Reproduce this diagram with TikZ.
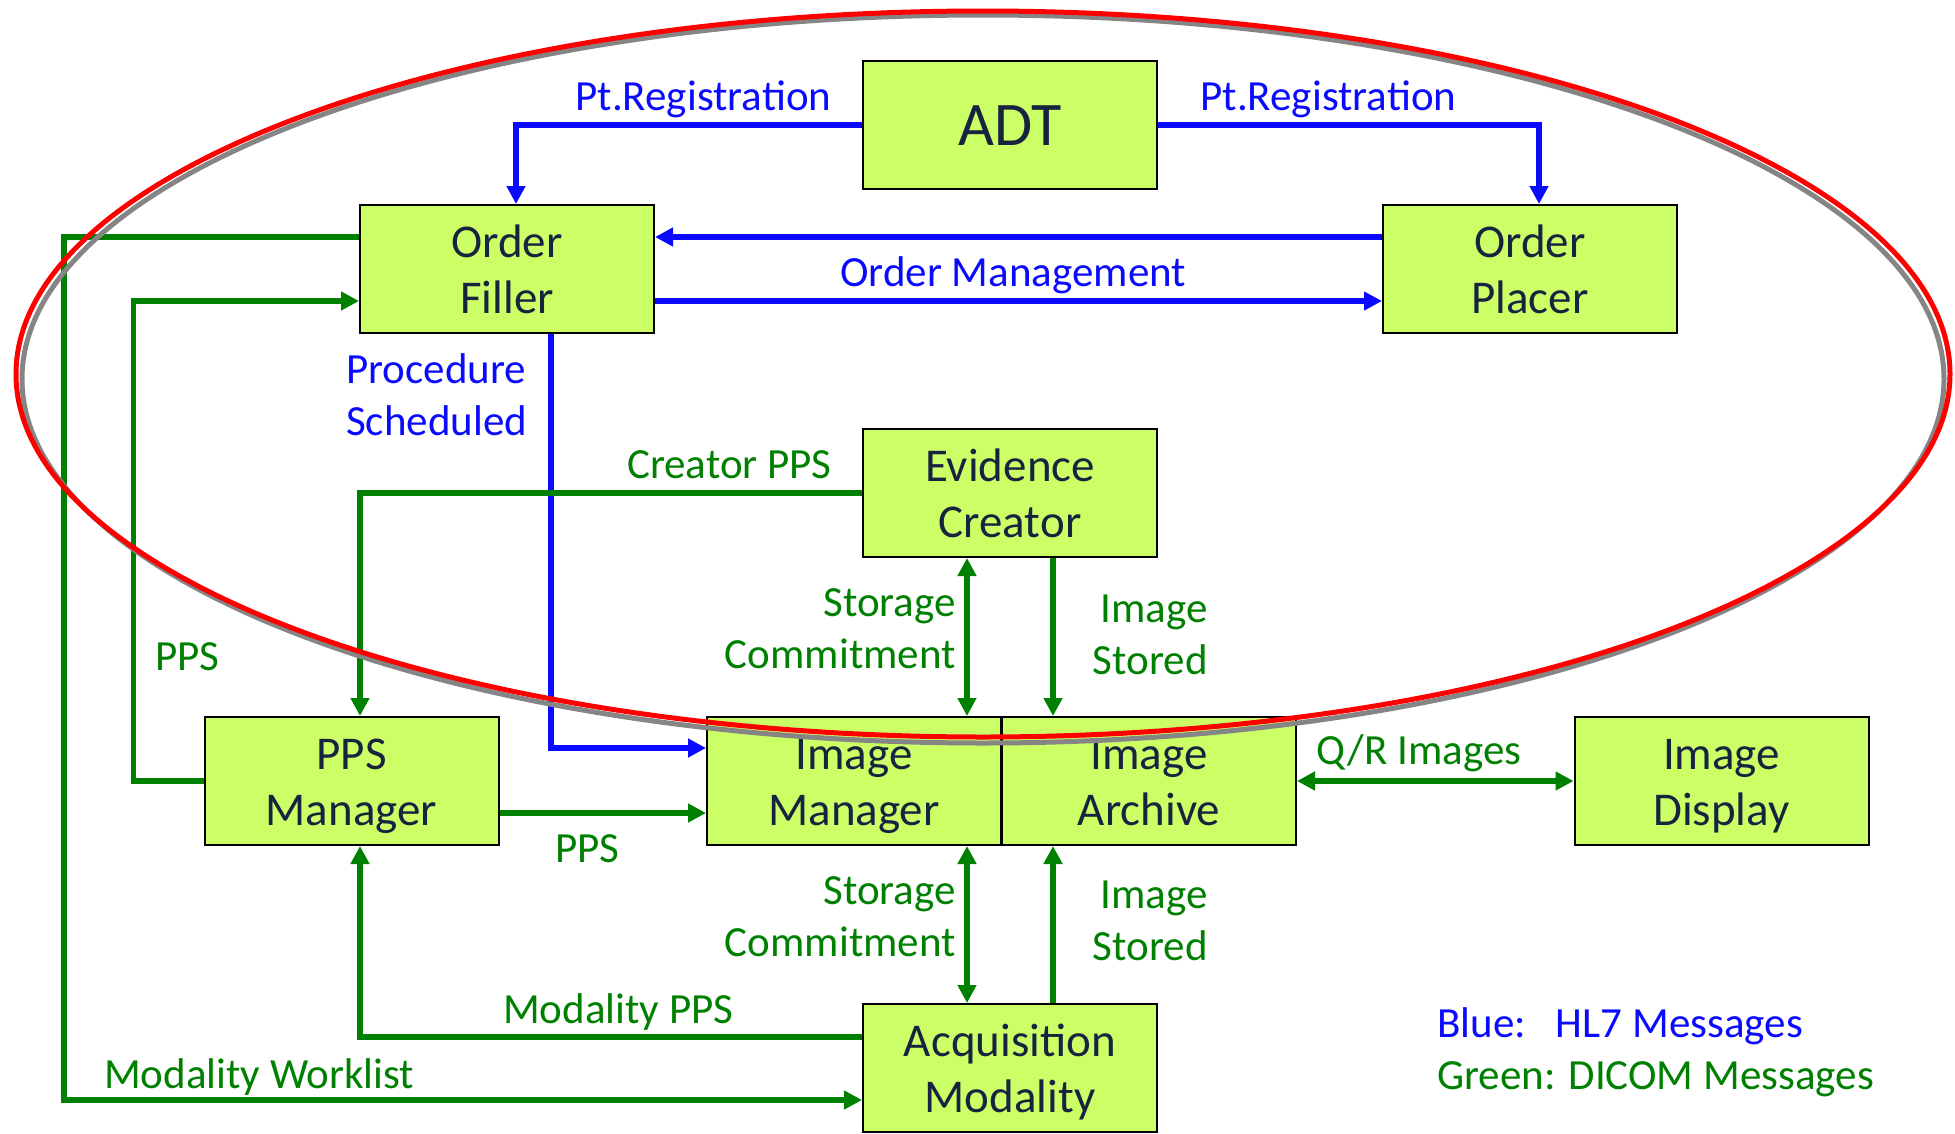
\documentclass[tikz,border=0pt]{standalone}
\usepackage{fontspec}
\setmainfont{Carlito}
\usetikzlibrary{arrows.meta,calc}

\definecolor{boxfill}{HTML}{CCFF66}
\definecolor{boxtext}{HTML}{17233F}
\definecolor{hlblue}{HTML}{0A0AFF}
\definecolor{dcgreen}{HTML}{008000}
\definecolor{ringred}{HTML}{FF0000}
\definecolor{ringgray}{HTML}{858585}

% struts that fix the line metrics of box texts and multi-line labels
\newcommand{\boxstrut}{\rule[-12pt]{0pt}{56pt}}
\newcommand{\adtstrut}{\rule[-12pt]{0pt}{64pt}}
\newcommand{\lblstrut}{\rule[-12pt]{0pt}{44pt}}

\tikzset{
  actor/.style={draw=black, line width=2pt, fill=boxfill,
    minimum width=294pt, minimum height=128pt, inner sep=0pt,
    text=boxtext, align=center, font=\fontsize{47}{56}\selectfont},
  hl7/.style={draw=hlblue, line width=5.5pt,
    -{Triangle[length=18pt,width=18pt]}},
  dicom/.style={draw=dcgreen, line width=5.5pt,
    -{Triangle[length=18pt,width=18pt]}},
  dicomboth/.style={draw=dcgreen, line width=5.5pt,
    {Triangle[length=18pt,width=18pt]}-{Triangle[length=18pt,width=18pt]}},
  lbl/.style={inner sep=0pt, font=\fontsize{43}{52}\selectfont},
  bl/.style={lbl, text=hlblue},
  gl/.style={lbl, text=dcgreen},
}

\begin{document}
\begin{tikzpicture}[x=1pt, y=-1pt]
\useasboundingbox (0,0) rectangle (1955,1133);

% actors
\node[actor, font=\fontsize{62}{64}\selectfont] (adt) at (1010,125) {\adtstrut ADT};
\node[actor] (filler)  at (507,269)   {\boxstrut Order\\\boxstrut Filler};
\node[actor] (placer)  at (1530,269)  {\boxstrut Order\\\boxstrut Placer};
\node[actor] (creator) at (1010,493)  {\boxstrut Evidence\\\boxstrut Creator};
\node[actor] (ppsm)    at (351.5,781) {\boxstrut PPS\\\boxstrut Manager};
\node[actor] (imgr)    at (854,781)   {\boxstrut Image\\\boxstrut Manager};
\node[actor] (arch)    at (1149,781)  {\boxstrut Image\\\boxstrut Archive};
\node[actor] (disp)    at (1721.5,781){\boxstrut Image\\\boxstrut Display};
\node[actor] (acq)     at (1010,1068) {\boxstrut Acquisition\\\boxstrut Modality};

% HL7 messages
\draw[hl7] (adt.west) -| ($(filler.north)+(9,0)$);
\draw[hl7] (adt.east) -| ($(placer.north)+(9,0)$);
\draw[hl7] ($(placer.west)+(0,-32)$) -- ($(filler.east)+(0,-32)$);
\draw[hl7] ($(filler.east)+(0,32)$) -- ($(placer.west)+(0,32)$);
\draw[hl7] ($(filler.south)+(44,0)$) |- ($(imgr.west)+(0,-33)$);

% DICOM messages
\draw[dicom] (creator.west) -| ($(ppsm.north)+(8.5,0)$);
\draw[dicom] (ppsm.west) -- ++(-70,0) |- ($(filler.west)+(0,32)$);
\draw[dicom] ($(filler.west)+(0,-32)$) -- ++(-295,0) |- ($(acq.west)+(0,32)$);
\draw[dicom] ($(acq.west)+(0,-31)$) -| ($(ppsm.south)+(8.5,0)$);
\draw[dicom] ($(ppsm.east)+(0,32)$) -- ($(imgr.west)+(0,32)$);

\coordinate (sc1) at ($(creator.south)+(-43,0)$);
\coordinate (is1) at ($(creator.south)+(43,0)$);
\coordinate (sc2) at ($(acq.north)+(-43,0)$);
\coordinate (is2) at ($(acq.north)+(43,0)$);
\draw[dicomboth] (sc1) -- (sc1 |- imgr.north);
\draw[dicom] (is1) -- (is1 |- arch.north);
\draw[dicomboth] (sc2 |- imgr.south) -- (sc2);
\draw[dicom] (is2) -- (is2 |- arch.south);
\draw[dicomboth] (arch.east) -- (disp.west);

% message labels
\node[bl, anchor=base west] (lptreg) at (575,110) {Pt.Registration};
\node[bl, anchor=base west] (rptreg) at (1200,110) {Pt.Registration};
\node[bl, anchor=base west] (ordmgmt) at (840,286) {Order Management};
\node[bl, anchor=north west, align=left] (procsched) at (346,351)
  {\lblstrut Procedure\\\lblstrut Scheduled};
\node[gl, anchor=base west] (crpps) at (627,478) {Creator PPS};
\node[gl, anchor=north east, align=right] (sclbl1) at (956,584)
  {\lblstrut Storage\\\lblstrut Commitment};
\node[gl, anchor=north east, align=right] (islbl1) at (1208,590)
  {\lblstrut Image\\\lblstrut Stored};
\node[gl, anchor=base west] (ppslbl1) at (155,670) {PPS};
\node[gl, anchor=base west] (ppslbl2) at (555,862) {PPS};
\node[gl, anchor=base west] (qrlbl) at (1316,764) {Q/R Images};
\node[gl, anchor=north east, align=right] (sclbl2) at (956,872)
  {\lblstrut Storage\\\lblstrut Commitment};
\node[gl, anchor=north east, align=right] (islbl2) at (1208,876)
  {\lblstrut Image\\\lblstrut Stored};
\node[gl, anchor=base west] (modpps) at (503,1023) {Modality PPS};
\node[gl, anchor=base west] (modwl) at (104,1088) {Modality Worklist};

% legend
\node[bl, anchor=base west] (legblue) at (1437,1037) {Blue:\hspace{30pt}HL7 Messages};
\node[gl, anchor=base west] (leggreen) at (1437,1089) {Green: DICOM Messages};

% scope ring with its shadow
\draw[ringgray, line width=5pt] (983,379) ellipse [x radius=961pt, y radius=364pt];
\draw[ringred, line width=5pt] (983,374) ellipse [x radius=967pt, y radius=363pt];
\end{tikzpicture}
\end{document}
